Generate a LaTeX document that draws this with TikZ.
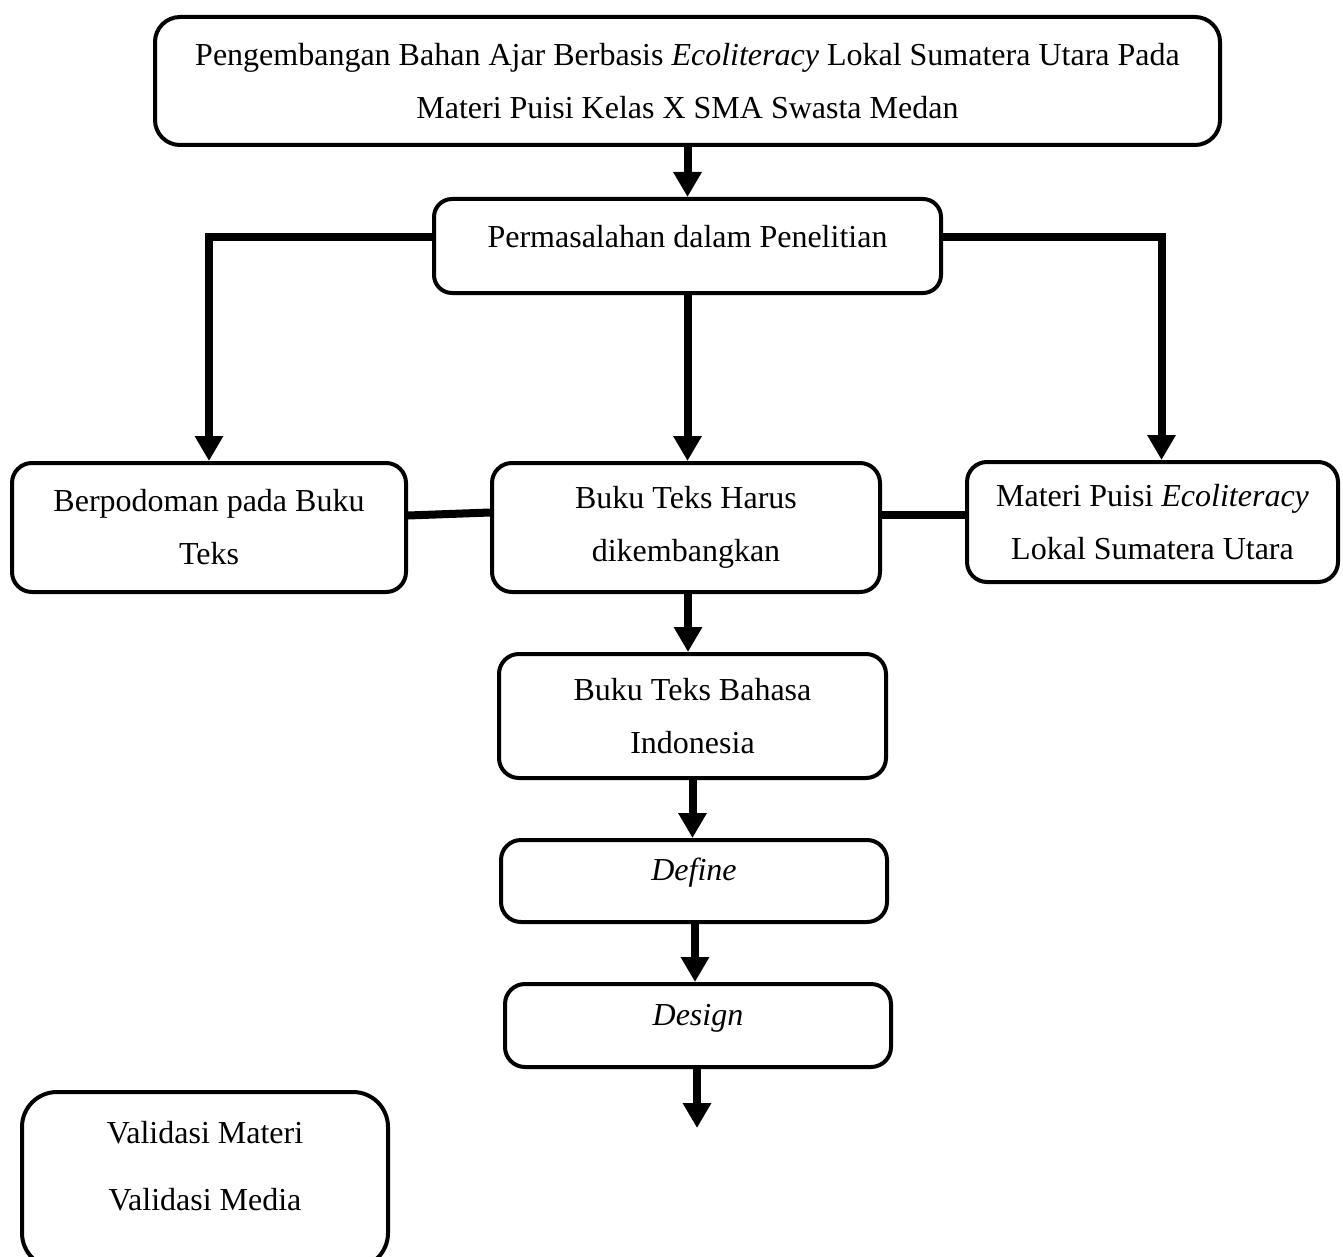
\documentclass[tikz,border=0pt]{standalone}
\usepackage{fontspec}
\setmainfont{Liberation Serif}
\usetikzlibrary{arrows.meta,calc}
\begin{document}
\begin{tikzpicture}[x=1pt,y=-1pt,
  box/.style={draw=black,line width=4pt,rounded corners=20pt,align=center,inner sep=0pt,
    font=\fontsize{32}{53}\selectfont},
  conn/.style={line width=8pt},
  arr/.style={line width=8pt,-{Triangle[width=27pt,length=25pt]}}]
\useasboundingbox (0,0) rectangle (1343,1257);
\clip (0,0) rectangle (1343,1257);
\fill[white] (0,0) rectangle (1343,1257);
\node[box,rounded corners=25pt,minimum width=1065pt,minimum height=128pt] (top) at (687.5,81)
  {Pengembangan Bahan Ajar Berbasis \textit{Ecoliteracy} Lokal Sumatera Utara Pada\\Materi Puisi Kelas X SMA Swasta Medan};
\node[box,rounded corners=18pt,minimum width=507pt,minimum height=94pt] (perm) at (687.5,246)
  {\raisebox{9pt}[\height][\depth]{Permasalahan dalam Penelitian}};
\node[box,minimum width=394pt,minimum height=129pt] (berp) at (209,527.5)
  {Berpodoman pada Buku\\Teks};
\node[box,minimum width=388pt,minimum height=129pt] (buku) at (686,527.5)
  {Buku Teks Harus\\dikembangkan};
\node[box,minimum width=371pt,minimum height=120pt] (materi) at (1152.5,522)
  {Materi Puisi \textit{Ecoliteracy}\\Lokal Sumatera Utara};
\node[box,minimum width=387pt,minimum height=124pt] (bahasa) at (692.5,716)
  {Buku Teks Bahasa\\Indonesia};
\node[box,minimum width=386pt,minimum height=82pt] (define) at (694,881)
  {\raisebox{8pt}[\height][\depth]{\textit{Define}}};
\node[box,minimum width=386pt,minimum height=83pt] (design) at (698,1025.5)
  {\raisebox{7pt}[\height][\depth]{\textit{Design}}};
\node[box,rounded corners=35pt,minimum width=366pt,minimum height=176pt] (valid) at (205,1180)
  {\raisebox{13.5pt}[\height][\depth]{\begin{tabular}{@{}c@{}}Validasi Materi\\[14pt]Validasi Media\end{tabular}}};
\coordinate (end) at (697,1128);
\coordinate (mw) at ([yshift=7pt]materi.west);

\draw[arr] (top.south) -- (top.south |- perm.north);
\draw[arr] ([yshift=9pt]perm.west) -| (berp.north);
\draw[arr] ([yshift=9pt]perm.east) -| ([xshift=9pt]materi.north);
\draw[arr] (perm.south) -- (perm.south |- buku.north);
\draw[conn] ([yshift=12pt]berp.east) -- ([yshift=15pt]buku.west);
\draw[conn] (buku.east |- mw) -- (mw);
\draw[arr] ([xshift=2pt]buku.south) -- ([xshift=2pt]buku.south |- bahasa.north);
\draw[arr] (bahasa.south) -- (bahasa.south |- define.north);
\draw[arr] ([xshift=1pt]define.south) -- ([xshift=1pt]define.south |- design.north);
\draw[arr] (design.south -| end) -- (end);
\end{tikzpicture}
\end{document}
